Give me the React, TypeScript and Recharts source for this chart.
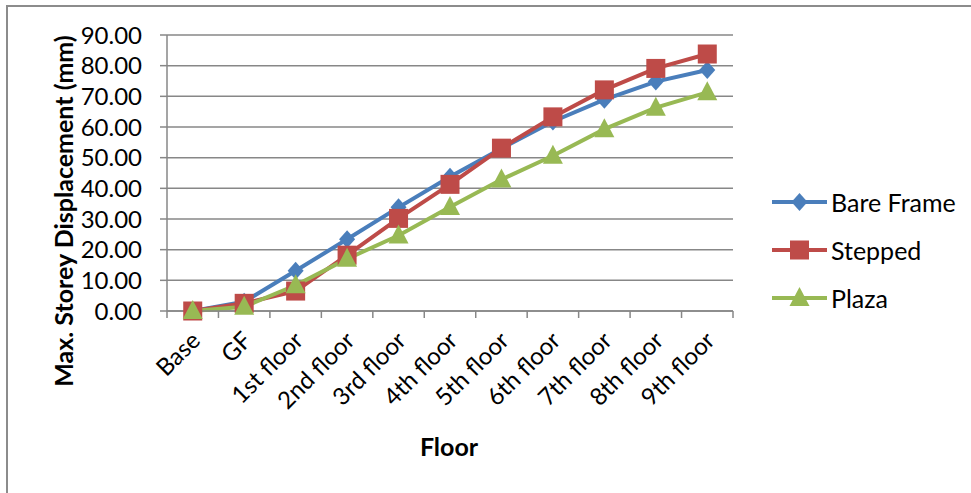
import { LineChart, Line, XAxis, YAxis, CartesianGrid } from 'recharts';

// storey displacement per floor level (mm)
const floors = ['Base', 'GF', '1st floor', '2nd floor', '3rd floor', '4th floor', '5th floor', '6th floor', '7th floor', '8th floor', '9th floor'];
const bareFrame = [0, 3, 13.1, 23.4, 33.8, 43.8, 53, 61.8, 68.9, 74.8, 78.6];
const stepped = [0, 2.5, 6.5, 18.2, 30.2, 41.3, 53.1, 63.3, 72.1, 79.1, 83.8];
const plaza = [0, 1.4, 8.4, 17, 24.6, 33.9, 42.9, 50.6, 59.3, 66.3, 71.3];
const yTicks = [0, 10, 20, 30, 40, 50, 60, 70, 80, 90];

const BLUE = '#4a7ebb';
const RED = '#be4b48';
const GREEN = '#98b954';
const GRID = '#878787';
const FONT = 'Lato, "Open Sans", sans-serif';

const data = floors.map((floor, i) => ({
  floor,
  bare: bareFrame[i],
  stepped: stepped[i],
  plaza: plaza[i],
}));

const series = [
  { key: 'bare', name: 'Bare Frame', color: BLUE, shape: 'diamond' },
  { key: 'stepped', name: 'Stepped', color: RED, shape: 'square' },
  { key: 'plaza', name: 'Plaza', color: GREEN, shape: 'triangle' },
];

function Marker({ cx, cy, shape, color }: { cx: number; cy: number; shape: string; color: string }) {
  if (shape === 'diamond') {
    return <polygon points={`${cx},${cy - 9} ${cx + 8},${cy} ${cx},${cy + 9} ${cx - 8},${cy}`} fill={color} />;
  }
  if (shape === 'square') {
    return <rect x={cx - 9.5} y={cy - 9.5} width={19} height={19} fill={color} />;
  }
  return <polygon points={`${cx},${cy - 11} ${cx + 10},${cy + 8} ${cx - 10},${cy + 8}`} fill={color} />;
}

// category label plus tick marks on the band edges
function FloorTick(props: any) {
  const { x, y, payload, index } = props;
  const half = payload.offset || 25.7;
  const tx = x + 9;
  const ty = y + 31;
  return (
    <g>
      <line x1={x - half} y1={y} x2={x - half} y2={y + 7} stroke={GRID} strokeWidth={1.5} />
      {index === floors.length - 1 && (
        <line x1={x + half} y1={y} x2={x + half} y2={y + 7} stroke={GRID} strokeWidth={1.5} />
      )}
      <text
        x={tx}
        y={ty}
        transform={`rotate(-45 ${tx} ${ty})`}
        textAnchor="end"
        fontSize={24}
        fontFamily={FONT}
        fill="#000"
      >
        {payload.value}
      </text>
    </g>
  );
}

function LegendBox() {
  return (
    <div style={{ position: 'absolute', left: 771, top: 178, fontFamily: FONT, fontSize: 25, color: '#000' }}>
      {series.map((s) => (
        <div key={s.key} style={{ display: 'flex', alignItems: 'center', height: 48 }}>
          <svg width={58} height={24} style={{ display: 'block' }}>
            <line x1={1} y1={12} x2={56} y2={12} stroke={s.color} strokeWidth={4} />
            <Marker cx={28.5} cy={12} shape={s.shape} color={s.color} />
          </svg>
          <span style={{ marginLeft: 2 }}>{s.name}</span>
        </div>
      ))}
    </div>
  );
}

export default function App() {
  return (
    <div style={{ position: 'absolute', left: 0, top: 0, width: 971, height: 493, background: '#fff', overflow: 'hidden' }}>
      <div
        style={{
          position: 'absolute',
          left: 6,
          top: 5,
          width: 1000,
          height: 520,
          borderLeft: '2px solid #8c8c8c',
          borderTop: '2px solid #8c8c8c',
        }}
      />
      <LineChart
        width={971}
        height={493}
        data={data}
        margin={{ top: 35, right: 238, bottom: 0, left: 67 }}
        style={{ position: 'absolute', left: 0, top: 0 }}
      >
        <CartesianGrid horizontal vertical={false} stroke={GRID} strokeWidth={1.5} />
        <XAxis
          dataKey="floor"
          scale="band"
          interval={0}
          height={182}
          tickSize={0}
          tickMargin={0}
          tickLine={false}
          axisLine={{ stroke: GRID, strokeWidth: 1.5 }}
          tick={<FloorTick />}
          label={{
            content: () => (
              <text x={449} y={456} textAnchor="middle" fontSize={25} fontWeight={700} fontFamily={FONT} fill="#000">
                Floor
              </text>
            ),
          }}
        />
        <YAxis
          width={100}
          domain={[0, 90]}
          ticks={yTicks}
          interval={0}
          tickFormatter={(v: number) => v.toFixed(2)}
          tickSize={7}
          tickMargin={18}
          tickLine={{ stroke: GRID, strokeWidth: 1.5 }}
          axisLine={{ stroke: GRID, strokeWidth: 1.5 }}
          tick={{ fontSize: 24, fontFamily: FONT, fill: '#000' }}
          label={{
            content: () => (
              <text
                x={63}
                y={211}
                transform="rotate(-90 63 211)"
                textAnchor="middle"
                dominantBaseline="central"
                fontSize={25}
                fontWeight={700}
                fontFamily={FONT}
                fill="#000"
              >
                Max. Storey Displacement (mm)
              </text>
            ),
          }}
        />
        {series.map((s) => (
          <Line
            key={s.key}
            dataKey={s.key}
            name={s.name}
            type="linear"
            stroke={s.color}
            strokeWidth={4}
            isAnimationActive={false}
            dot={(p: any) => <Marker key={`${s.key}-${p.index}`} cx={p.cx} cy={p.cy} shape={s.shape} color={s.color} />}
            activeDot={false}
          />
        ))}
      </LineChart>
      <LegendBox />
    </div>
  );
}
